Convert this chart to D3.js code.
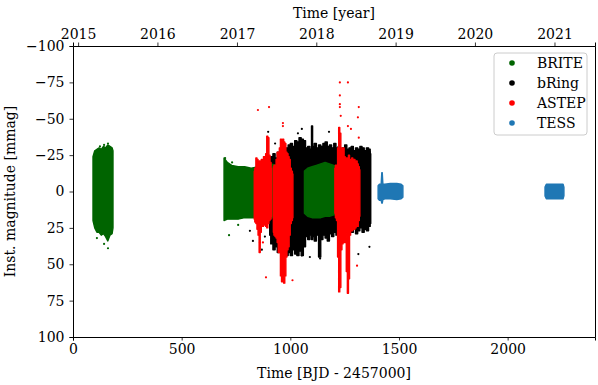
<!DOCTYPE html>
<html lang="en">

<head>
    <meta charset="UTF-8">
    <title>Light curves</title>
    <script src="https://d3js.org/d3.v7.min.js"></script>
    <style>
        body {
            margin: 0;
            background: #fff;
        }

        text {
            font-family: "DejaVu Serif", serif;
            fill: #000;
        }

        .tick text {
            font-size: 14px;
        }

        .tick line {
            stroke: #000;
            stroke-width: 0.8;
        }
    </style>
</head>

<body>
    <svg width="598" height="385"></svg>

    <script>
        // tick labels
        const yearLabels = [2015, 2016, 2017, 2018, 2019, 2020, 2021];
        // 1 January of each year, in BJD - 2457000
        const yearStartBJD = [23.5, 388.5, 754.5, 1119.5, 1484.5, 1849.5, 2215.5];
        const bjdTicks = [0, 500, 1000, 1500, 2000];
        const magTicks = [-100, -75, -50, -25, 0, 25, 50, 75, 100];

        // legend order
        const instruments = ["BRITE", "bRing", "ASTEP", "TESS"];
        const colors = ["#006400", "#000000", "#ff0000", "#1f77b4"];

        // dense parts of each light curve: time, upper and lower edge (mmag), one array per season
        const briteTime = [
            [92, 100, 110, 120, 130, 140, 150, 160, 170, 180, 184],
            [695, 710, 730, 760, 790, 820, 850, 880, 910, 940, 960],
            [1065, 1080, 1100, 1120, 1140, 1160, 1180, 1200, 1215]
        ];
        const briteUpper = [
            [-24, -28, -29, -30, -29, -31, -30, -32, -31, -30, -28],
            [-23, -20, -18, -17, -17, -16, -17, -18, -19, -18, -17],
            [-14, -16, -17, -18, -19, -20, -19, -18, -17]
        ];
        const briteLower = [
            [20, 25, 28, 28, 30, 29, 31, 34, 30, 29, 25],
            [20, 19, 19, 19, 18, 18, 18, 17, 18, 18, 17],
            [15, 17, 18, 18, 18, 17, 17, 16, 16]
        ];
        const briteDotT = [161, 110, 143, 161, 143, 124, 718, 700, 732, 760];
        const briteDotM = [39, 32, 36, -33, -32, -31, 30, -23, -20, 23];

        const bringTime = [
            [905, 915, 925, 935, 945, 955, 965, 975, 985, 995, 1005, 1015, 1025, 1035, 1045, 1055, 1065,
                1075, 1085, 1095, 1100, 1105, 1115, 1125, 1135, 1145, 1155, 1165, 1175, 1185, 1195, 1205,
                1215, 1225, 1235, 1245, 1255, 1265, 1275, 1285, 1295, 1305, 1315, 1325, 1335, 1345, 1355,
                1365, 1370]
        ];
        const bringUpper = [
            [-20, -24, -26, -23, -27, -25, -28, -27, -30, -32, -33, -31, -35, -34, -37, -36, -35,
                -30, -31, -29, -45, -31, -33, -30, -32, -31, -33, -34, -31, -32, -30, -33,
                -30, -31, -29, -30, -32, -29, -30, -31, -28, -30, -29, -31, -30, -28, -30,
                -29, -26]
        ];
        const bringLower = [
            [30, 36, 40, 38, 42, 39, 43, 41, 44, 42, 44, 40, 43, 44, 41, 44, 38,
                31, 33, 30, 33, 31, 34, 30, 45, 33, 30, 32, 34, 29, 31, 28,
                30, 27, 29, 26, 28, 27, 25, 28, 26, 29, 27, 25, 28, 26, 27,
                24, 22]
        ];
        const bringDotT = [898, 930, 1035, 1053, 1178, 1366, 836, 814, 828, 869, 851, 883, 828, 1090, 1137, 1364, 1313, 1053];
        const bringDotM = [-41, -33, -40, -43, -41, -27, -11, 27, 34, 40, 25, 31, -8, 45, 46, 38, 43, 44];

        const astepTime = [
            [834, 839, 844, 849, 854, 859, 864, 869, 874, 879, 884, 889, 894, 899, 904, 909, 914],
            [922, 927, 932, 937, 942, 947, 952, 957, 962, 967, 972, 977, 982, 987, 992, 997, 1002, 1007, 1012],
            [1205, 1210, 1215, 1220, 1225, 1230, 1235, 1240, 1245, 1250, 1255, 1260, 1265, 1270, 1275, 1280,
                1285, 1290, 1295, 1300, 1305, 1310, 1315, 1320]
        ];
        const astepUpper = [
            [-14, -16, -23, -22, -20, -21, -19, -22, -20, -24, -21, -26, -38, -37, -25, -20, -16],
            [-17, -18, -17, -22, -27, -26, -30, -36, -35, -36, -34, -33, -27, -26, -24, -22, -16, -14, -12],
            [-16, -18, -17, -30, -44, -40, -30, -28, -30, -24, -22, -23, -21, -25, -22, -20,
                -23, -21, -22, -20, -21, -19, -17, -15]
        ];
        const astepLower = [
            [19, 21, 22, 26, 30, 42, 28, 23, 24, 23, 22, 24, 25, 22, 20, 19, 17],
            [28, 30, 31, 32, 35, 42, 40, 58, 62, 60, 63, 58, 45, 40, 38, 30, 22, 20, 18],
            [15, 18, 20, 45, 69, 66, 40, 36, 33, 35, 28, 55, 70, 60, 30, 25,
                27, 24, 26, 25, 22, 24, 20, 17]
        ];
        const astepDotT = [851, 902, 966, 966, 888, 1228, 1265, 1228, 1228, 1228, 1315, 1311, 1232, 1279, 1265, 1315, 1307, 1010, 860, 874];
        const astepDotM = [-56, -58, -47, -45, 59, -75, -75, -66, -60, -58, -58, -51, -52, -43, -45, -37, 51, 61, 35, 35];

        const tessTime = [
            [1404, 1410, 1418, 1421, 1423, 1426, 1435, 1460, 1490, 1510, 1518],
            [2172, 2178, 2190, 2210, 2230, 2250, 2255, 2259]
        ];
        const tessUpper = [
            [-4, -5, -5, -13, -13, -5, -5, -5.5, -5.5, -5, -4],
            [-3, -5, -5, -5, -5, -5, -5, -3]
        ];
        const tessLower = [
            [5, 6, 6, 8, 8, 5.5, 5, 5, 5.5, 5, 4],
            [3, 5, 5, 5, 5, 5, 5, 3]
        ];
        const tessDotT = [];
        const tessDotM = [];

        const width = 598;
        const height = 385;
        const margin = { top: 46, right: 3, bottom: 48, left: 73 };

        const svg = d3.select("svg");

        const x = d3.scaleLinear()
            .domain([0, 2402])
            .range([margin.left, width - margin.right]);

        const y = d3.scaleLinear()
            .domain([-100, 100])
            .range([margin.top, height - margin.bottom]);

        svg.append("defs").append("clipPath")
            .attr("id", "plot")
            .append("rect")
            .attr("x", margin.left)
            .attr("y", margin.top)
            .attr("width", x.range()[1] - margin.left)
            .attr("height", y.range()[1] - margin.top);

        const smooth = d3.area()
            .x(d => x(d.t))
            .y0(d => y(d.top))
            .y1(d => y(d.bot));

        // scatter with many spikes: step edges look more like the vertical streaks of points
        const streaky = d3.area()
            .curve(d3.curveStep)
            .x(d => x(d.t))
            .y0(d => y(d.top))
            .y1(d => y(d.bot));

        const plot = svg.append("g").attr("clip-path", "url(#plot)");

        // drawing order: bRing underneath, then BRITE, ASTEP, TESS
        const series = [
            { i: 1, t: bringTime, up: bringUpper, lo: bringLower, dt: bringDotT, dm: bringDotM, area: streaky },
            { i: 0, t: briteTime, up: briteUpper, lo: briteLower, dt: briteDotT, dm: briteDotM, area: smooth },
            { i: 2, t: astepTime, up: astepUpper, lo: astepLower, dt: astepDotT, dm: astepDotM, area: streaky },
            { i: 3, t: tessTime, up: tessUpper, lo: tessLower, dt: tessDotT, dm: tessDotM, area: smooth }
        ];

        series.forEach(s => {
            const color = colors[s.i];
            const g = plot.append("g");

            s.t.forEach((times, k) => {
                const rows = times.map((t, j) => ({ t: t, top: s.up[k][j], bot: s.lo[k][j] }));
                g.append("path")
                    .datum(rows)
                    .attr("d", s.area)
                    .attr("fill", color)
                    .attr("stroke", color)
                    .attr("stroke-width", 1.4)
                    .attr("stroke-linejoin", "round");
            });

            g.selectAll("circle")
                .data(s.dt.map((t, j) => ({ t: t, m: s.dm[j] })))
                .join("circle")
                .attr("cx", d => x(d.t))
                .attr("cy", d => y(d.m))
                .attr("r", 1.1)
                .attr("fill", color);
        });

        // axes
        const minus = d => d3.format("d")(d).replace("-", "\u2212");

        svg.append("g")
            .attr("transform", `translate(0,${y.range()[1]})`)
            .call(d3.axisBottom(x).tickValues(bjdTicks).tickSize(3.5).tickPadding(4).tickFormat(d3.format("d")));

        svg.append("g")
            .attr("transform", `translate(${margin.left},0)`)
            .call(d3.axisLeft(y).tickValues(magTicks).tickSize(3.5).tickPadding(5).tickFormat(minus));

        svg.append("g")
            .attr("transform", `translate(0,${margin.top})`)
            .call(d3.axisTop(x).tickValues(yearStartBJD).tickSize(3.5).tickPadding(4)
                .tickFormat((d, i) => yearLabels[i]));

        svg.append("g")
            .attr("transform", `translate(${x.range()[1]},0)`)
            .call(d3.axisRight(y).tickValues([]).tickSize(0));

        svg.selectAll(".domain").attr("stroke", "#000").attr("stroke-width", 1);

        // axis titles
        svg.append("text")
            .attr("x", (margin.left + x.range()[1]) / 2)
            .attr("y", 378)
            .attr("text-anchor", "middle")
            .attr("font-size", 14)
            .text("Time [BJD - 2457000]");

        svg.append("text")
            .attr("x", (margin.left + x.range()[1]) / 2)
            .attr("y", 18)
            .attr("text-anchor", "middle")
            .attr("font-size", 14)
            .text("Time [year]");

        svg.append("text")
            .attr("transform", `translate(15,${y(0)}) rotate(-90)`)
            .attr("text-anchor", "middle")
            .attr("font-size", 14)
            .text("Inst. magnitude [mmag]");

        // legend
        const legend = svg.append("g").attr("transform", "translate(494,53)");

        legend.append("rect")
            .attr("width", 93)
            .attr("height", 82)
            .attr("rx", 3)
            .attr("fill", "#fff")
            .attr("fill-opacity", 0.8)
            .attr("stroke", "#ccc");

        const entry = legend.selectAll(".entry")
            .data(instruments)
            .join("g")
            .attr("class", "entry")
            .attr("transform", (d, i) => `translate(0,${10 + i * 20})`);

        entry.append("circle")
            .attr("cx", 18)
            .attr("r", 2.8)
            .attr("fill", (d, i) => colors[i]);

        entry.append("text")
            .attr("x", 43)
            .attr("dy", 4.5)
            .attr("font-size", 14)
            .text(d => d);
    </script>
</body>

</html>
